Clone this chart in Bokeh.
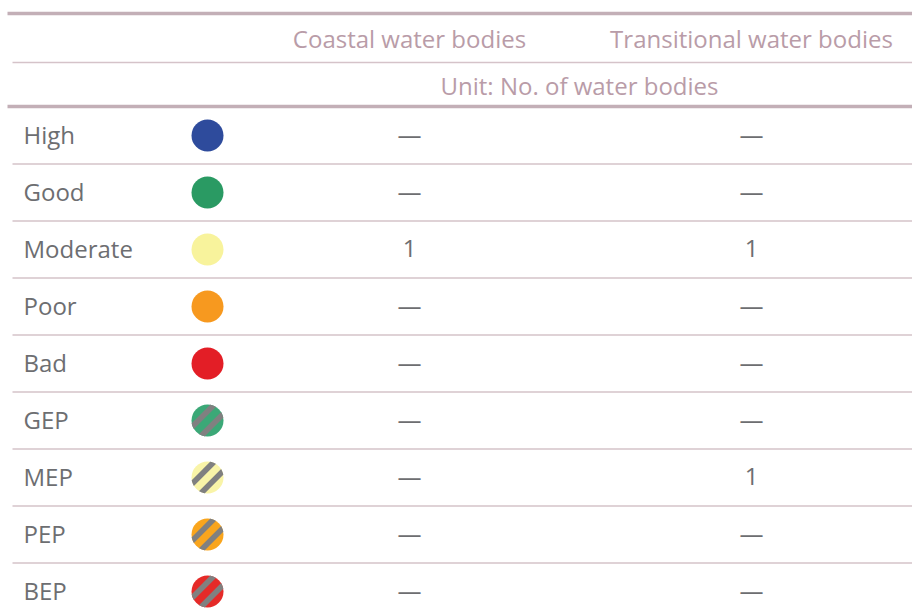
import math
from bokeh.plotting import figure
from bokeh.models import Range1d, ColumnDataSource
from bokeh.core.properties import value
from bokeh.embed import file_html
from bokeh.resources import INLINE

# ---- data ----
categories = ["High", "Good", "Moderate", "Poor", "Bad", "GEP", "MEP", "PEP", "BEP"]
colors = ["#2e4b9c", "#2a9a63", "#f8f39c", "#f7991f", "#e31e26",
          "#3ba877", "#f9f4a8", "#f9a51d", "#e52a28"]
hatched = [False, False, False, False, False, True, True, True, True]
coastal = [None, None, 1, None, None, None, None, None, None]
transitional = [None, None, 1, None, None, None, 1, None, None]
col_headers = ["Coastal water bodies", "Transitional water bodies"]
unit_label = "Unit: No. of water bodies"

FONT = "Open Sans"
HEAD_COL = "#b99ca8"
TXT_COL = "#6d6e71"
LINE_COL = "#c3afb7"
SEP_COL = "#d5c3c9"
STRIPE_COL = "#808080"

W, H = 912, 611
p = figure(width=W, height=H, output_backend="svg", toolbar_location=None,
           x_range=Range1d(0, W), y_range=Range1d(H, 0),
           min_border=0, outline_line_color=None)
p.axis.visible = False
p.grid.visible = False

row0, row_h = 135, 57
ys = [row0 + i * row_h for i in range(len(categories))]
ty = [y - 1.5 for y in ys]
col_x = [409, 751]
circ_x, circ_r = 207, 16

# header lines
p.segment(x0=[7, 12, 7], x1=[920, 920, 920], y0=[13, 62, 106], y1=[13, 62, 106],
          line_color=[LINE_COL, SEP_COL, LINE_COL], line_width=[3.5, 1.5, 3.5])
# row separators
seps = [y + row_h / 2 for y in ys[:-1]]
p.segment(x0=[12] * len(seps), x1=[920] * len(seps), y0=seps, y1=seps,
          line_color=SEP_COL, line_width=1.5)

# header texts
p.text(x=col_x, y=[37.5, 37.5], text=col_headers, text_font=value(FONT),
       text_font_size="24px", text_color=HEAD_COL, text_align="center",
       text_baseline="middle")
p.text(x=[579], y=[84.5], text=[unit_label], text_font=value(FONT),
       text_font_size="24px", text_color=HEAD_COL, text_align="center",
       text_baseline="middle")

# row labels
p.text(x=[23] * len(categories), y=ty, text=categories, text_font=value(FONT),
       text_font_size="24px", text_color=TXT_COL, text_align="left",
       text_baseline="middle")

# circles
src = ColumnDataSource(dict(x=[circ_x] * len(categories), y=ys, c=colors))
p.scatter(x="x", y="y", size=2 * circ_r, fill_color="c", line_color=None, source=src)


# diagonal grey stripes inside the hatched (ecological potential) circles
def stripe_poly(cx, cy, r, d0, d1, n=24):
    """Polygon of the part of a circle between two '/' lines at normal offsets d0..d1."""
    a0 = math.acos(max(-1, min(1, d0 / r)))
    a1 = math.acos(max(-1, min(1, d1 / r)))
    base = math.pi / 4
    xs, ys_ = [], []
    for k in range(n + 1):
        phi = a1 + (a0 - a1) * k / n
        xs.append(cx + r * math.cos(base + phi))
        ys_.append(cy + r * math.sin(base + phi))
    for k in range(n + 1):
        phi = -a0 + (a0 - a1) * k / n
        xs.append(cx + r * math.cos(base + phi))
        ys_.append(cy + r * math.sin(base + phi))
    return xs, ys_


sx, sy = [], []
for y, h in zip(ys, hatched):
    if not h:
        continue
    for dc in (-6.5, 6.5):
        a, b = stripe_poly(circ_x, y, circ_r, dc - 2.8, dc + 2.8)
        sx.append(a)
        sy.append(b)
p.patches(xs=sx, ys=sy, fill_color=STRIPE_COL, line_color=None)

# values
for cx, vals in zip(col_x, [coastal, transitional]):
    txt = ["—" if v is None else str(v) for v in vals]
    p.text(x=[cx] * len(vals), y=ty, text=txt, text_font=value(FONT),
           text_font_size="24px", text_color=TXT_COL, text_align="center",
           text_baseline="middle")

open("out.html", "w").write(file_html(p, INLINE))
